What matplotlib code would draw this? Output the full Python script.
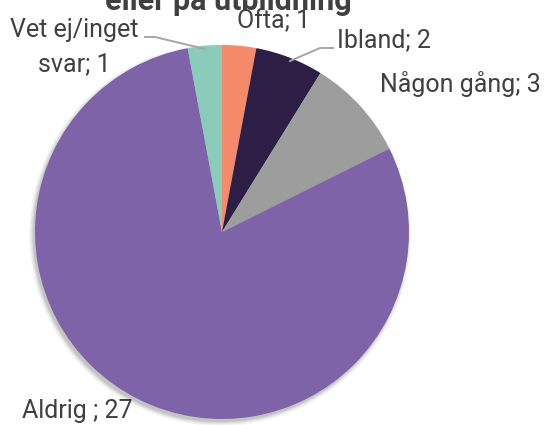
import matplotlib
matplotlib.use("Agg")
import matplotlib.pyplot as plt
from matplotlib.patches import Circle

categories = ["Ofta", "Ibland", "Någon gång", "Aldrig", "Vet ej/inget svar"]
values = [1, 2, 3, 27, 1]
labels = ["Ofta; 1", "Ibland; 2", "Någon gång; 3", "Aldrig ; 27", "Vet ej/inget\nsvar; 1"]
colors = ["#F48A6A", "#2D1E46", "#9D9D9D", "#7F63A8", "#8ACBBA"]
title = "eller på utbildning"

plt.rcParams['font.family'] = ['Roboto', 'DejaVu Sans']

W, H = 544, 425
fig = plt.figure(figsize=(W / 100, H / 100), dpi=100)
ax = fig.add_axes([0, 0, 1, 1])

cx, cy, r = 222, H - 232, 187

# soft shadow
for i, a in enumerate([0.03, 0.035, 0.045, 0.06, 0.08]):
    ax.add_patch(Circle((cx - 2, cy - 3), r + 4 - i, color='black', alpha=a, lw=0, zorder=0))

ax.pie(values, colors=colors, startangle=90, counterclock=False,
       center=(cx, cy), radius=r, frame=True,
       wedgeprops=dict(linewidth=0))
ax.set_xlim(0, W)
ax.set_ylim(0, H)
ax.set_aspect('equal')
ax.axis('off')

tc = '#404040'
fs = 18
ax.text(228, H - 10, title, ha='center', va='baseline', fontsize=22, fontweight='bold', color=tc)
ax.text(274, H - 21, labels[0], ha='center', va='center', fontsize=fs, color=tc)
ax.text(384, H - 40, labels[1], ha='center', va='center', fontsize=fs, color=tc)
ax.text(460, H - 84, labels[2], ha='center', va='center', fontsize=fs, color=tc)
ax.text(77, H - 411, labels[3], ha='center', va='center', fontsize=fs, color=tc)
ax.text(74, H - 47, labels[4], ha='center', va='center', fontsize=fs, color=tc, linespacing=1.55)

lc = '#A6A6A6'
ax.plot([145, 155, 205], [H - 37, H - 37, H - 49], color=lc, lw=1.4)
ax.plot([333, 320, 290], [H - 48, H - 48, H - 61], color=lc, lw=1.4)

fig.savefig("out.png", dpi=100, facecolor='white')
